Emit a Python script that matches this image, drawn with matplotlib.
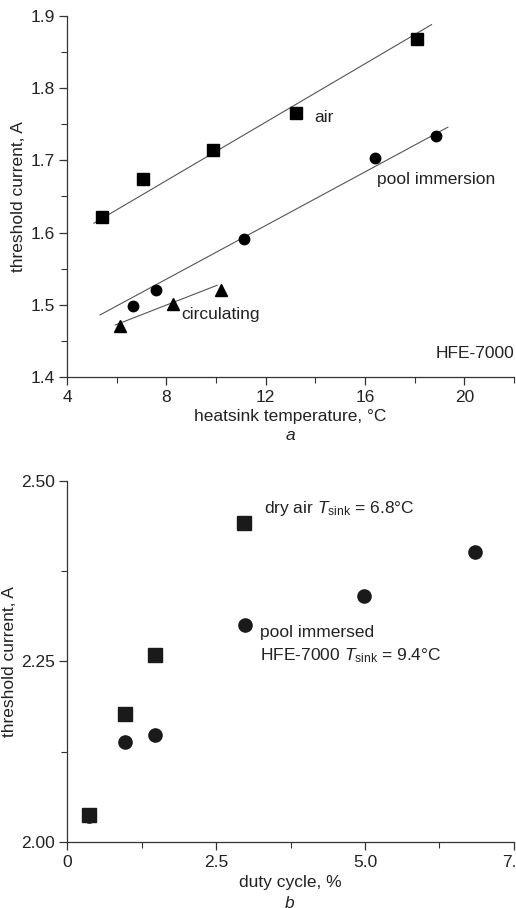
import matplotlib
matplotlib.use("Agg")
import matplotlib.pyplot as plt
from matplotlib.ticker import MultipleLocator, FixedLocator

plt.rcParams['font.family'] = ['Liberation Sans', 'DejaVu Sans']
plt.rcParams['mathtext.fontset'] = 'custom'
plt.rcParams['mathtext.rm'] = 'Liberation Sans'
plt.rcParams['mathtext.it'] = 'Liberation Sans:italic'

# panel a: threshold current vs heatsink temperature
air_t = [5.41, 7.04, 9.88, 13.23, 18.1]
air_i = [1.622, 1.674, 1.714, 1.765, 1.868]
air_fit_t = [5.08, 18.68]
air_fit_i = [1.613, 1.888]

pool_t = [6.64, 7.57, 11.13, 16.41, 18.85]
pool_i = [1.499, 1.520, 1.591, 1.704, 1.734]
pool_fit_t = [5.33, 19.34]
pool_fit_i = [1.486, 1.746]

circ_t = [6.14, 8.27, 10.2]
circ_i = [1.470, 1.501, 1.521]
circ_fit_t = [5.94, 10.04]
circ_fit_i = [1.472, 1.527]

# panel b: threshold current vs duty cycle
dry_duty = [0.375, 0.97, 1.47, 2.97]
dry_i = [2.038, 2.178, 2.259, 2.441]
imm_duty = [0.375, 0.97, 1.47, 2.98, 4.98, 6.84]
imm_i = [2.037, 2.138, 2.148, 2.300, 2.341, 2.401]

fs = 12.5
txt_c = '#222222'

fig = plt.figure(figsize=(5.16, 9.08), dpi=100)
ax1 = fig.add_axes([0.130, 0.5848, 0.866, 0.3976])
ax2 = fig.add_axes([0.130, 0.0724, 0.866, 0.3982])

line_c = '#555555'
for ax in (ax1, ax2):
    ax.spines['top'].set_visible(False)
    ax.spines['right'].set_visible(False)
    for s in ('left', 'bottom'):
        ax.spines[s].set_color('#333333')
        ax.spines[s].set_linewidth(0.9)
    ax.tick_params(which='major', direction='out', length=6, width=0.9,
                   color='#333333', labelsize=fs, labelcolor=txt_c, pad=3)
    ax.tick_params(which='minor', direction='out', length=4, width=0.8,
                   color='#333333')

ax1.plot(air_fit_t, air_fit_i, color=line_c, lw=0.8)
ax1.plot(pool_fit_t, pool_fit_i, color=line_c, lw=0.8)
ax1.plot(circ_fit_t, circ_fit_i, color=line_c, lw=0.8)
ax1.plot(air_t, air_i, 's', color='black', ms=8, ls='none')
ax1.plot(pool_t, pool_i, 'o', color='black', ms=7.5, ls='none')
ax1.plot(circ_t, circ_i, '^', color='black', ms=9, ls='none')

ax1.set_xlim(4, 22)
ax1.set_ylim(1.4, 1.9)
ax1.xaxis.set_major_locator(FixedLocator([4, 8, 12, 16, 20]))
ax1.xaxis.set_minor_locator(MultipleLocator(2))
ax1.yaxis.set_major_locator(MultipleLocator(0.1))
ax1.yaxis.set_minor_locator(MultipleLocator(0.05))
ax1.set_xlabel('heatsink temperature, °C', fontsize=fs, color=txt_c, labelpad=3.5)
ax1.set_ylabel('threshold current, A', fontsize=fs, color=txt_c, labelpad=3)

ax1.text(13.95, 1.760, 'air', fontsize=fs, va='center', color=txt_c)
ax1.text(16.5, 1.673, 'pool immersion', fontsize=fs, va='center', color=txt_c)
ax1.text(8.6, 1.486, 'circulating', fontsize=fs, va='center', color=txt_c)
ax1.text(22, 1.432, 'HFE-7000', fontsize=fs, va='center', ha='right', color=txt_c)
fig.text(0.562, 1 - 436 / 908, 'a', fontsize=fs, style='italic', ha='center',
         va='center', color=txt_c)

mk_c = '#1a1a1a'
ax2.plot(dry_duty, dry_i, 's', color=mk_c, ms=9.5, ls='none')
ax2.plot(imm_duty, imm_i, 'o', color=mk_c, ms=9.5, ls='none')
ax2.set_xlim(0, 7.5)
ax2.set_ylim(2.0, 2.5)
ax2.xaxis.set_major_locator(FixedLocator([0, 2.5, 5.0, 7.5]))
ax2.xaxis.set_minor_locator(MultipleLocator(1.25))
ax2.set_xticklabels(['0', '2.5', '5.0', '7.5'])
ax2.yaxis.set_major_locator(FixedLocator([2.0, 2.25, 2.5]))
ax2.yaxis.set_minor_locator(MultipleLocator(0.125))
ax2.set_yticklabels(['2.00', '2.25', '2.50'])
ax2.set_xlabel('duty cycle, %', fontsize=fs, color=txt_c, labelpad=3.5)
ax2.set_ylabel('threshold current, A', fontsize=fs, color=txt_c, labelpad=3)

ax2.text(3.31, 2.462, r'dry air $T_{\mathrm{sink}}$ = 6.8°C', fontsize=fs,
         va='center', color=txt_c)
ax2.text(3.24, 2.290, 'pool immersed', fontsize=fs, va='center', color=txt_c)
ax2.text(3.24, 2.258, r'HFE-7000 $T_{\mathrm{sink}}$ = 9.4°C', fontsize=fs,
         va='center', color=txt_c)
fig.text(0.562, 1 - 903 / 908, 'b', fontsize=fs, style='italic', ha='center',
         va='center', color=txt_c)

fig.savefig('out.png', dpi=100)
